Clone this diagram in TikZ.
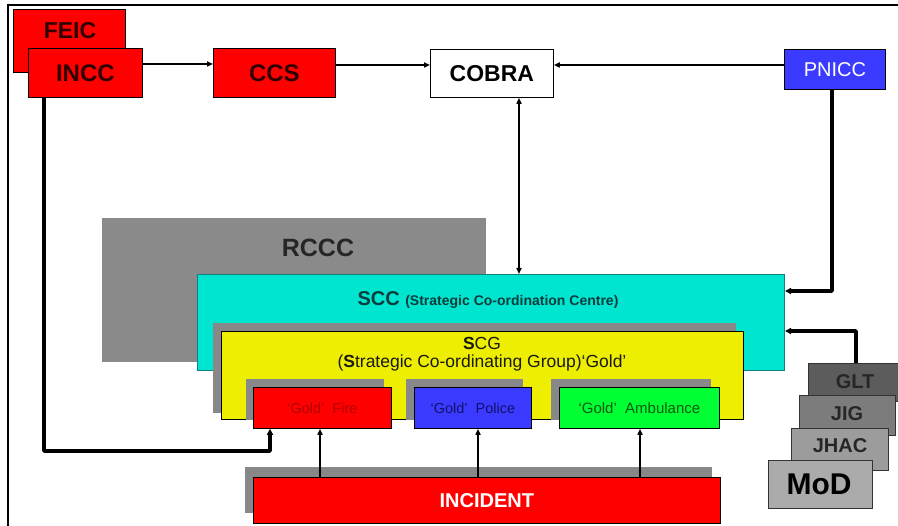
\documentclass[tikz,border=0pt]{standalone}
\usepackage{fontspec}
\setmainfont{Liberation Sans}
\usetikzlibrary{arrows.meta}
\newcommand\myfs[1]{\fontsize{#1}{#1}\selectfont}
\definecolor{shadowgray}{HTML}{888888}
\definecolor{rcccgray}{HTML}{8A8A8A}
\definecolor{pnblue}{HTML}{3B3BFF}
\definecolor{sccfill}{HTML}{00E5CF}
\definecolor{sccdraw}{HTML}{128080}
\definecolor{scctext}{HTML}{0C3C3C}
\definecolor{scgfill}{HTML}{EEEE00}
\definecolor{goldgreen}{HTML}{00FF33}
\definecolor{firetext}{HTML}{B00000}
\definecolor{policetext}{HTML}{10106A}
\definecolor{ambtext}{HTML}{0A5A0A}
\definecolor{gltgray}{HTML}{5C5C5C}
\definecolor{jiggray}{HTML}{7C7C7C}
\definecolor{jhacgray}{HTML}{9C9C9C}
\definecolor{modgray}{HTML}{ABABAB}
\definecolor{redtext}{HTML}{300000}
\begin{document}
\begin{tikzpicture}[x=1pt,y=-1pt,
  box/.style={draw=black, line width=0.8pt, inner sep=0pt, anchor=north west, align=center},
  shadowbox/.style={fill=shadowgray, inner sep=0pt, anchor=north west},
  lbl/.style={inner sep=0pt, anchor=center},
  arr/.style={line width=2pt, -{Triangle[length=6pt,width=5pt]}},
  darr/.style={line width=1.8pt, {Triangle[length=6pt,width=5pt]}-{Triangle[length=6pt,width=5pt]}},
  tarr/.style={line width=3.4pt, -{Triangle[length=6pt,width=6pt]}, line join=round},
  stackbox/.style={draw=black!80, line width=0.8pt, inner sep=0pt, anchor=north west}]
\useasboundingbox (0,0) rectangle (898,526);
\fill[white] (0,0) rectangle (898,526);
% frame
\draw[line width=1.5pt] (8,526) -- (8,5) -- (898,5);

% top row
\node[box, fill=red, minimum width=112, minimum height=63] (feic) at (13,9) {};
\node[lbl, text=redtext, font=\bfseries\myfs{23}] (feict) at (70,31) {FEIC};
\node[box, fill=red, minimum width=114, minimum height=49, text=redtext, font=\bfseries\myfs{24}] (incc) at (28,48) {INCC};
\node[box, fill=red, minimum width=122, minimum height=49, text=redtext, font=\bfseries\myfs{24}] (ccs) at (213,48) {CCS};
\node[box, fill=white, minimum width=123, minimum height=48, font=\bfseries\myfs{23}] (cobra) at (430,49) {COBRA};
\node[box, fill=pnblue, minimum width=101, minimum height=40, text=white, font=\myfs{20}] (pnicc) at (784,49) {PNICC};

% nested blocks
\node[fill=rcccgray, inner sep=0pt, anchor=north west, minimum width=384, minimum height=144] (rccc) at (102,218) {};
\node[lbl, font=\bfseries\myfs{25}, text=black!85] (rccct) at (318,248) {RCCC};
\node[draw=sccdraw, fill=sccfill, line width=1pt, inner sep=0pt, anchor=north west, minimum width=587, minimum height=96] (scc) at (197,274) {};
\node[lbl, text=scctext] (scct) at (488,300) {\bfseries\myfs{20}SCC \myfs{14}(Strategic Co-ordination Centre)};
\node[shadowbox, minimum width=523, minimum height=90] (scgsh) at (213,323) {};
\node[box, fill=scgfill, minimum width=522, minimum height=88] (scg) at (221,331) {};
\node[lbl, text=black!90, font=\myfs{17.5}] (scgt1) at (482,343) {\textbf{S}CG};
\node[lbl, text=black!90, font=\myfs{17.5}] (scgt2) at (482,363) {(\textbf{S}trategic Co-ordinating Group)‘Gold’};

% gold boxes
\node[shadowbox, minimum width=138, minimum height=41] (firesh) at (246,379) {};
\node[box, fill=red, minimum width=138, minimum height=41, text=firetext, font=\myfs{14.5}] (fire) at (253,387) {‘Gold’\ \ Fire};
\node[shadowbox, minimum width=117, minimum height=41] (policesh) at (406,379) {};
\node[box, fill=pnblue, minimum width=117, minimum height=41, text=policetext, font=\myfs{14.5}] (police) at (414,387) {‘Gold’\ \ Police};
\node[shadowbox, minimum width=160, minimum height=41] (ambsh) at (551,379) {};
\node[box, fill=goldgreen, minimum width=160, minimum height=41, text=ambtext, font=\myfs{15}] (amb) at (559,387) {‘Gold’\ \ Ambulance};

% incident
\node[shadowbox, minimum width=467, minimum height=46] (incsh) at (245,467) {};
\node[box, fill=red, minimum width=467, minimum height=46, text=white, font=\bfseries\myfs{20}] (incident) at (253,477) {INCIDENT};

% right stack
\node[stackbox, fill=gltgray, minimum width=90, minimum height=38] (glt) at (808,363) {};
\node[lbl, font=\bfseries\myfs{20}, text=black!85] (gltt) at (855,382) {GLT};
\node[stackbox, fill=jiggray, minimum width=96, minimum height=40] (jig) at (799,395) {};
\node[lbl, font=\bfseries\myfs{20}, text=black!85] (jigt) at (847,414) {JIG};
\node[stackbox, fill=jhacgray, minimum width=97, minimum height=42] (jhac) at (791,428) {};
\node[lbl, font=\bfseries\myfs{20}, text=black!85] (jhact) at (840,446) {JHAC};
\node[stackbox, fill=modgray, minimum width=104, minimum height=48] (mod) at (768,460) {};
\node[lbl, font=\bfseries\myfs{30}, text=black] (modt) at (819,484) {MoD};

% connector helper coordinates
\coordinate (r1) at (0,64);
\coordinate (r2) at (0,65);
\coordinate (cx) at (519,0);
\coordinate (p1) at (832,291);
\coordinate (g1) at (856,331);
\coordinate (i1) at (44,451);
\coordinate (i2) at (270,451);
\coordinate (a1) at (320,0);
\coordinate (a2) at (478,0);
\coordinate (a3) at (640,0);

% connectors
\draw[arr] (incc.east |- r1) -- (ccs.west |- r1);
\draw[arr] (ccs.east |- r2) -- (cobra.west |- r2);
\draw[arr] (pnicc.west |- r2) -- (cobra.east |- r2);
\draw[darr] (cx |- cobra.south) -- (cx |- scc.north);
\draw[tarr] (pnicc.south -| p1) -- (p1) -- (p1 -| scc.east);
\draw[tarr] (glt.north -| g1) -- (g1) -- (g1 -| scc.east);
\draw[tarr] (incc.south -| i1) -- (i1) -- (i2) -- (i2 |- fire.south);
\draw[arr] (a1 |- incident.north) -- (a1 |- fire.south);
\draw[arr] (a2 |- incident.north) -- (a2 |- police.south);
\draw[arr] (a3 |- incident.north) -- (a3 |- amb.south);
\end{tikzpicture}
\end{document}
